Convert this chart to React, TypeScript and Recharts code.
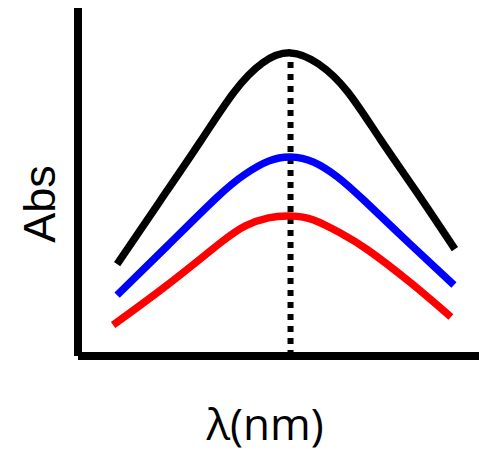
import { LineChart, Line, XAxis, YAxis, ReferenceLine } from 'recharts'

// positions along the wavelength axis (arbitrary units) and absorbance
const blackX = [9.75, 20.5, 30.5, 38.75, 46, 53, 60, 67.25, 75.5, 84.75, 94]
const blackY = [26.4, 44.6, 61.6, 75.6, 84.2, 87.1, 83.9, 75.9, 62.1, 46.6, 30.7]

const blueX = [9.75, 22.25, 34.75, 41.75, 47.5, 53, 58.75, 64.75, 71.25, 82.5, 93.75]
const blueY = [17.5, 31.6, 45.7, 52.3, 56.0, 57.2, 55.7, 51.4, 44.8, 32.5, 20.4]

const redX = [8.75, 22.25, 35.5, 41.75, 47.5, 53, 58.75, 65.5, 72.25, 83, 93]
const redY = [8.9, 20.4, 32.5, 37.4, 39.7, 40.2, 39.1, 35.3, 30.5, 21.0, 11.2]

const peakX = 53
const peakY = 87.1

const toRows = (xs: number[], ys: number[]) => xs.map((x, i) => ({ x, y: ys[i] }))

export default function App() {
  return (
    <div style={{ position: 'absolute', left: 0, top: 0, background: '#fff' }}>
      <LineChart width={479} height={452} margin={{ top: 8, right: 0, bottom: 0, left: 0 }}>
        <XAxis
          dataKey="x" type="number" domain={[0, 100]} height={96}
          tick={false} tickLine={false}
          axisLine={{ stroke: '#000', strokeWidth: 8 }}
          label={{
            content: () => (
              <text x={265} y={440} textAnchor="middle" fontFamily="'Open Sans', sans-serif" fontSize={44} fill="#000">
                λ(nm)
              </text>
            ),
          }}
        />
        <YAxis
          type="number" domain={[0, 100]} width={78}
          tick={false} tickLine={false}
          axisLine={{ stroke: '#000', strokeWidth: 8 }}
          label={{
            content: () => (
              <text x={55} y={204} transform="rotate(-90 55 204)" textAnchor="middle"
                fontFamily="'Liberation Sans', Arial, sans-serif" fontSize={45} fill="#000">
                Abs
              </text>
            ),
          }}
        />
        <ReferenceLine
          segment={[{ x: peakX, y: 0 }, { x: peakX, y: peakY }]}
          stroke="#000" strokeWidth={6} strokeDasharray="6 6"
        />
        <Line data={toRows(blackX, blackY)} dataKey="y" type="natural" stroke="#000" strokeWidth={7.5} dot={false} isAnimationActive={false} />
        <Line data={toRows(blueX, blueY)} dataKey="y" type="natural" stroke="#0000ff" strokeWidth={7.5} dot={false} isAnimationActive={false} />
        <Line data={toRows(redX, redY)} dataKey="y" type="natural" stroke="#ff0000" strokeWidth={7.5} dot={false} isAnimationActive={false} />
      </LineChart>
    </div>
  )
}
